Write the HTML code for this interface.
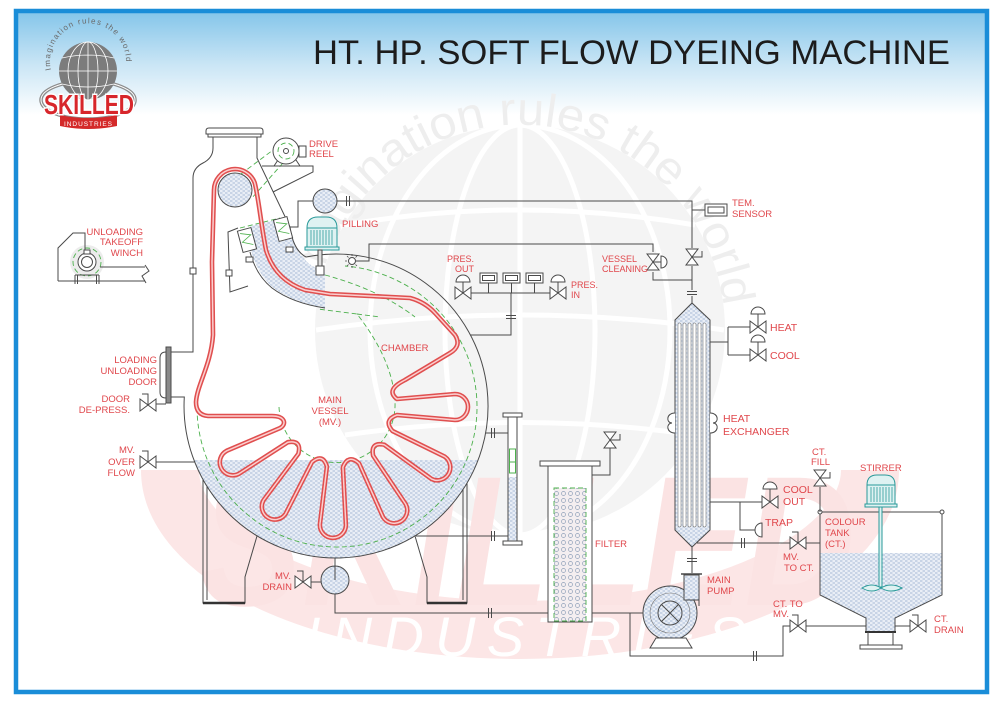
<!DOCTYPE html>
<html><head><meta charset="utf-8"><title>HT HP Soft Flow Dyeing Machine</title>
<style>
html,body{margin:0;padding:0;background:#fff;width:1000px;height:706px;overflow:hidden}
svg{display:block}
text{font-family:"Liberation Sans",Arial,sans-serif}
.l{fill:#e0474c;font-size:9.5px}
.s{fill:none;stroke:#4a4a4a;stroke-width:1}
.g{fill:none;stroke:#4cb04c;stroke-width:0.9;stroke-dasharray:5 3}
</style></head><body>
<svg width="1000" height="706" viewBox="0 0 1000 706" xmlns="http://www.w3.org/2000/svg">
<defs>
 <linearGradient id="hdr" x1="0" y1="0" x2="0" y2="1">
  <stop offset="0" stop-color="#86c6ea"/>
  <stop offset="0.5" stop-color="#c9e5f5"/>
  <stop offset="1" stop-color="#ffffff"/>
 </linearGradient>
 <pattern id="dt" width="5" height="4" patternUnits="userSpaceOnUse">
  <rect width="5" height="4" fill="#e9eef6"/>
  <path d="M0,1H2.5M2.5,3H5" stroke="#93a9cb" stroke-width="0.7"/>
 </pattern>
 <pattern id="fc" width="7" height="7" patternUnits="userSpaceOnUse">
  <rect width="7" height="7" fill="#f4eef0"/>
  <circle cx="3.5" cy="3.5" r="2" fill="none" stroke="#8e9fb8" stroke-width="0.7"/>
 </pattern>
 <path id="vh" d="M-8,-6L8,6L8,-6L-8,6Z" fill="#fff" stroke="#4a4a4a"/>
 <path id="vv" d="M-6,-8L6,8L-6,8L6,-8Z" fill="#fff" stroke="#4a4a4a"/>
 <path id="dm" d="M-7,0A7,7 0 0 1 7,0Z" fill="#fff" stroke="#4a4a4a"/>
 <path id="hh" d="M0,0V-11H-6" fill="none" stroke="#4a4a4a"/>
 <path id="hv" d="M0,0H10V-6" fill="none" stroke="#4a4a4a"/>
 <path id="fh" d="M-1.5,-5V5M1.5,-5V5" fill="none" stroke="#4a4a4a"/>
 <path id="fv" d="M-5,-1.5H5M-5,1.5H5" fill="none" stroke="#4a4a4a"/>
</defs>

<rect x="0" y="0" width="1000" height="706" fill="#fff"/>
<rect x="18" y="13" width="967" height="102" fill="url(#hdr)"/>

<!-- watermark -->
<g>
 <circle cx="520" cy="330" r="205" fill="#f4f4f4"/>
 <g fill="none" stroke="#fff" stroke-width="5">
  <ellipse cx="520" cy="330" rx="75" ry="205"/>
  <ellipse cx="520" cy="330" rx="150" ry="205"/>
  <path d="M520,125V535"/>
  <path d="M345,225Q520,195 695,225"/>
  <path d="M316,330Q520,300 724,330"/>
  <path d="M345,435Q520,410 695,435"/>
 </g>
 <path id="wp" d="M318,294.4A205,205 0 0 1 724.2,312.1" fill="none"/>
 <text font-size="46" fill="#eeeeee"><textPath href="#wp" textLength="585" lengthAdjust="spacingAndGlyphs">Imagination rules the world</textPath></text>
 <path d="M170,470A350,160 0 0 0 870,470" fill="none" stroke="#fce6e6" stroke-width="58"/>
 <text x="200" y="605" font-size="185" font-weight="bold" font-style="italic" fill="#fbe3e3" textLength="655" lengthAdjust="spacingAndGlyphs">SKILLED</text>
 <text x="305" y="656" font-size="56" font-style="italic" fill="#ffffff" textLength="440" lengthAdjust="spacing">INDUSTRIES</text>
</g>

<!-- title -->
<text x="313" y="64" font-size="34" fill="#1c1c1c" textLength="637" lengthAdjust="spacingAndGlyphs">HT. HP. SOFT FLOW DYEING MACHINE</text>

<!-- logo -->
<g>
 <ellipse cx="88" cy="100" rx="47" ry="19" fill="none" stroke="#8c8c8c" stroke-width="3.5"/>
 <ellipse cx="88" cy="100" rx="47" ry="19" fill="none" stroke="#fff" stroke-width="1"/>
 <circle cx="88" cy="71" r="29" fill="#7c7c7c"/>
 <g fill="none" stroke="#fff" stroke-width="0.8">
  <ellipse cx="88" cy="71" rx="10" ry="29"/>
  <ellipse cx="88" cy="71" rx="20" ry="29"/>
  <path d="M88,42V100M62,58Q88,52 114,58M59,71H117M62,84Q88,90 114,84"/>
 </g>
 <path id="lp" d="M51,70A38,38 0 1 1 125,70" fill="none"/>
 <text font-size="8" fill="#6a6a6a"><textPath href="#lp" textLength="128">Imagination rules the world</textPath></text>
 <path d="M60,115Q88,121 117,115L117,126Q88,132 60,126Z" fill="#d42a2a"/>
 <text x="88" y="126" font-size="6.5" fill="#fff" text-anchor="middle" textLength="48">INDUSTRIES</text>
 <text x="44" y="114" font-size="28" font-weight="bold" fill="#d7262b" stroke="#fff" stroke-width="3" paint-order="stroke" textLength="90" lengthAdjust="spacingAndGlyphs">SKILLED</text>
</g>

<!-- liquid fills -->
<path d="M193.9,460A152,152 0 0 0 478.1,460Z" fill="url(#dt)"/>
<path d="M250,226L285,218L292,235Q297,255 312,266L325,272L325,308Q290,302 270,285Q254,268 250,245Z" fill="url(#dt)"/>
<circle cx="235" cy="190" r="17" fill="url(#dt)" stroke="#4a4a4a"/>

<!-- green dashed -->
<path class="g" d="M197.2,399.7A140,140 0 1 0 398.4,281.2Q372,268 345,266"/>
<path class="g" d="M279,407A58,58 0 1 0 395,402Q393,360 357,314L318,309M357,314L380,317"/>
<path class="g" d="M325,275Q380,290 415,317"/>
<path class="g" d="M277,147L241,174M283,163L251,199"/>
<path class="g" d="M240,228L280,218"/>

<!-- rope -->
<g fill="none" stroke-linejoin="round">
<path d="M330,294L410,298Q425,302 435,313L455,335Q462,346 450,353L405,380Q385,390 397,399L455,394A13,13 0 0 1 455,420L397,415Q383,420 392.5,431L444.8,456.7A13,13 0 0 1 431.4,478.9L384.3,444.8Q370.4,441.6 373.1,455.6L405.6,504A13,13 0 0 1 382.8,516.6L359.1,463.4Q348.2,453.6 342.9,467.2L345.9,525.4A13,13 0 0 1 319.9,524.4L326.9,466.6Q323,452.9 312,462.1L285.5,514A13,13 0 0 1 263.5,500.2L298.4,453.7Q301.9,439.8 287.8,442.2L238.9,473.8A13,13 0 0 1 226.7,450.8L280.2,428C287,424 285,416 272,416L208,416Q196,415 196,402C197,385 211,365 213,335L212,262L214,190A21,21 0 0 1 254.7,182.8C259,200 261,225 266,250Q275,280 305,290Z" stroke="#e04f4f" stroke-width="4.6"/>
<path d="M330,294L410,298Q425,302 435,313L455,335Q462,346 450,353L405,380Q385,390 397,399L455,394A13,13 0 0 1 455,420L397,415Q383,420 392.5,431L444.8,456.7A13,13 0 0 1 431.4,478.9L384.3,444.8Q370.4,441.6 373.1,455.6L405.6,504A13,13 0 0 1 382.8,516.6L359.1,463.4Q348.2,453.6 342.9,467.2L345.9,525.4A13,13 0 0 1 319.9,524.4L326.9,466.6Q323,452.9 312,462.1L285.5,514A13,13 0 0 1 263.5,500.2L298.4,453.7Q301.9,439.8 287.8,442.2L238.9,473.8A13,13 0 0 1 226.7,450.8L280.2,428C287,424 285,416 272,416L208,416Q196,415 196,402C197,385 211,365 213,335L212,262L214,190A21,21 0 0 1 254.7,182.8C259,200 261,225 266,250Q275,280 305,290Z" stroke="#fbcfcf" stroke-width="1.5"/>
</g>

<!-- vessel structure -->
<path d="M206,134L206,131Q206,128 209,128L260,128Q263,128 263,131L263,134Z" fill="#fff" stroke="#4a4a4a"/>
<rect x="208" y="134" width="53" height="3" fill="#fff" stroke="#4a4a4a"/>
<path class="s" d="M213,137L213,148Q213,158 203,163Q193,168 193,178L193,352L171,352"/>
<path class="s" d="M257,137L257,158L290,227Q293,250 306,257"/>
<path class="s" d="M171,397L184.3,397A152,152 0 1 0 306,257"/>
<path class="s" d="M250,252Q256,275 272,288Q292,303 325,308"/>
<path class="s" d="M238,228L228,232L230,292L248,286"/>
<rect x="190" y="268" width="6" height="6" fill="#fff" stroke="#4a4a4a"/>
<rect x="226" y="270" width="6" height="6" fill="#fff" stroke="#4a4a4a"/>
<!-- door -->
<rect x="166" y="347" width="5" height="56" fill="#8a8a8a" stroke="#4a4a4a"/>
<path class="s" d="M166,352Q160,352 160,358L160,392Q160,398 166,398"/>
<!-- nozzle -->
<g transform="rotate(-15 247 240)"><rect x="240" y="229" width="14" height="22" fill="#fff" stroke="#4a4a4a"/><path d="M242,232L252,236L242,241L252,246" fill="none" stroke="#4cb04c" stroke-width="0.8"/></g>
<g transform="rotate(-15 283 229)"><rect x="276" y="218" width="14" height="22" fill="#fff" stroke="#4a4a4a"/><path d="M278,221L288,225L278,230L288,235" fill="none" stroke="#4cb04c" stroke-width="0.8"/></g>
<rect x="246" y="257" width="7" height="5" fill="#fff" stroke="#4a4a4a"/>
<rect x="286" y="247" width="7" height="5" fill="#fff" stroke="#4a4a4a"/>
<!-- legs -->
<path class="s" d="M203,480V603H245V577L257,536"/>
<path class="s" d="M207,486V600"/>
<path d="M203,603H245" stroke="#333" stroke-width="2.5"/>
<path class="s" d="M467,483V603H427V577L415,536"/>
<path class="s" d="M463,489V600"/>
<path d="M427,603H467" stroke="#333" stroke-width="2.5"/>

<!-- drive reel -->
<path class="s" d="M262,166L313,166L313,172L273,192"/>
<path class="s" d="M274,166L278,160L296,160L300,166"/>
<circle cx="286" cy="151" r="13" fill="#fff" stroke="#4a4a4a"/>
<circle cx="286" cy="151" r="8" class="g"/>
<circle cx="286" cy="151" r="2.5" fill="#fff" stroke="#4a4a4a"/>
<rect x="299" y="146" width="7" height="11" fill="#fff" stroke="#4a4a4a"/>

<!-- pilling -->
<circle cx="325" cy="201" r="12" fill="url(#dt)" stroke="#4a4a4a"/>
<path class="s" d="M313,201H298V227H290"/>
<path class="s" d="M337,201H692V248M692,266V290M692,296V303"/>
<use href="#fh" x="348" y="201"/>
<use href="#fv" x="692" y="293"/>
<use href="#vv" x="692" y="257"/>
<use href="#hv" x="692" y="257"/>
<path class="s" d="M692,210H705"/>
<rect x="705" y="204" width="22" height="12" fill="#fff" stroke="#4a4a4a"/>
<rect x="708" y="207" width="16" height="6" fill="#fff" stroke="#4a4a4a"/>
<g stroke="#2a9a9a" fill="#dff2f2">
 <path d="M307,228Q307,217 318,217L326,217Q337,217 337,228Z"/>
 <rect x="307" y="228" width="30" height="19"/>
 <path d="M311,230V245M314,230V245M317,230V245M320,230V245M323,230V245M326,230V245M329,230V245M332,230V245" fill="none" stroke-width="0.8"/>
 <rect x="305" y="247" width="34" height="3"/>
</g>
<rect x="318" y="250" width="4" height="16" fill="#e0e0e0" stroke="#4a4a4a"/>
<rect x="316" y="266" width="8" height="9" fill="#fff" stroke="#4a4a4a"/>

<!-- star sensor / vessel cleaning -->
<circle cx="352" cy="261" r="3.5" fill="#fff" stroke="#4a4a4a"/>
<path d="M352,254V256M352,266V268M345,261H347M357,261H359M347,256L348.5,257.5M355.5,264.5L357,266M347,266L348.5,264.5M355.5,257.5L357,256" stroke="#4a4a4a" stroke-width="0.8"/>
<path class="s" d="M356,261H369V244H653V252M653,272V280H692"/>
<use href="#vv" x="653" y="262"/>
<path class="s" d="M653,262H661"/>
<path d="M661,256A6,6 0 0 1 661,268Z" fill="#fff" stroke="#4a4a4a"/>

<!-- pressure -->
<path class="s" d="M471,293H550M511,293V335H470.4"/>
<use href="#fv" x="511" y="317"/>
<use href="#vh" x="463" y="293"/><path class="s" d="M463,293V282"/><use href="#dm" x="463" y="282"/>
<use href="#vh" x="558" y="293"/><path class="s" d="M558,293V282"/><use href="#dm" x="558" y="282"/>
<path class="s" d="M488.5,283V293M511.5,283V293M534.5,283V293"/>
<rect x="480" y="273" width="17" height="10" fill="#fff" stroke="#4a4a4a"/><rect x="482.5" y="275.5" width="12" height="5" fill="#fff" stroke="#4a4a4a"/>
<rect x="503" y="273" width="17" height="10" fill="#fff" stroke="#4a4a4a"/><rect x="505.5" y="275.5" width="12" height="5" fill="#fff" stroke="#4a4a4a"/>
<rect x="526" y="273" width="17" height="10" fill="#fff" stroke="#4a4a4a"/><rect x="528.5" y="275.5" width="12" height="5" fill="#fff" stroke="#4a4a4a"/>

<!-- heat exchanger -->
<path d="M675,320L692,303L710,320L710,530L692,547L675,530Z" fill="url(#dt)" stroke="#4a4a4a"/>
<g fill="#fff" stroke="#7a7a7a" stroke-width="0.6">
 <rect x="678" y="323" width="3" height="204" rx="1.5"/>
 <rect x="683" y="323" width="3" height="204" rx="1.5"/>
 <rect x="688" y="323" width="3" height="204" rx="1.5"/>
 <rect x="693" y="323" width="3" height="204" rx="1.5"/>
 <rect x="698" y="323" width="3" height="204" rx="1.5"/>
 <rect x="703" y="323" width="3" height="204" rx="1.5"/>
</g>
<path d="M675,413C666,413 666,423 672,423C666,423 666,433 675,433" fill="#fff" stroke="#4a4a4a"/>
<path d="M710,413C719,413 719,423 713,423C719,423 719,433 710,433" fill="#fff" stroke="#4a4a4a"/>
<path class="s" d="M692,547V573"/>
<use href="#fv" x="692" y="560"/>
<path class="s" d="M710,342H728M728,327V355M728,327H750M728,355H750"/>
<use href="#vh" x="758" y="327"/><path class="s" d="M758,327V314"/><use href="#dm" x="758" y="314"/>
<use href="#vh" x="758" y="355"/><path class="s" d="M758,355V342"/><use href="#dm" x="758" y="342"/>
<path class="s" d="M710,502H762M740,502V530H755"/>
<use href="#vh" x="770" y="502"/><path class="s" d="M770,502V489"/><use href="#dm" x="770" y="489"/>
<path d="M762,523A7,7 0 0 0 762,537Z" fill="#fff" stroke="#4a4a4a"/>
<path class="s" d="M697,543H790M806,543H820"/>
<use href="#fh" x="743" y="543"/>
<use href="#vh" x="798" y="543"/><use href="#hh" x="798" y="543"/>

<!-- colour tank -->
<path d="M820,553L942,553L942,595L895,618L895,632L866,632L866,618L820,595Z" fill="url(#dt)"/>
<path class="s" d="M820,512L820,595L866,618L866,632M942,512L942,595L895,618L895,632M818,512H944"/>
<circle cx="820" cy="512" r="2" fill="#fff" stroke="#4a4a4a"/>
<circle cx="942" cy="512" r="2" fill="#fff" stroke="#4a4a4a"/>
<path d="M865,632H896" stroke="#333" stroke-width="2"/>
<path class="s" d="M868,632V645M893,632V645"/>
<rect x="860" y="645" width="42" height="4" fill="#fff" stroke="#4a4a4a"/>
<g stroke="#2a9a9a" fill="#dff2f2">
 <path d="M867,485Q867,475 877,475L885,475Q895,475 895,485Z"/>
 <rect x="867" y="485" width="28" height="19"/>
 <path d="M871,487V502M874,487V502M877,487V502M880,487V502M883,487V502M886,487V502M889,487V502M892,487V502" fill="none" stroke-width="0.8"/>
 <rect x="865" y="504" width="32" height="3"/>
 <rect x="879" y="507" width="3" height="80"/>
 <path d="M862,588Q872,582 881,588Q891,582 902,588Q891,594 881,588Q872,594 862,588Z"/>
</g>
<path class="s" d="M820,487V512"/>
<use href="#vv" x="820" y="478"/><use href="#hv" x="820" y="478"/>
<path class="s" d="M895,626H910"/>
<use href="#vh" x="918" y="626"/><use href="#hh" x="918" y="626"/>

<!-- bottom piping -->
<path class="s" d="M630,613V656H783V626H790M806,626H866"/>
<use href="#fh" x="755" y="656"/>
<use href="#vh" x="798" y="626"/><use href="#hh" x="798" y="626"/>

<!-- pump -->
<circle cx="670" cy="613" r="27" fill="url(#dt)" stroke="#4a4a4a"/>
<rect x="684" y="575" width="15" height="25" fill="url(#dt)" stroke="#4a4a4a"/>
<path d="M684,598V600M699,598V606" stroke="#4a4a4a"/>
<path d="M681,574H702" stroke="#4a4a4a" stroke-width="1.5"/>
<circle cx="670" cy="613" r="20" fill="none" stroke="#7a7a7a" stroke-width="0.6"/>
<circle cx="670" cy="613" r="12" fill="none" stroke="#4a4a4a"/>
<path class="s" d="M661.5,604.5L678.5,621.5M678.5,604.5L661.5,621.5"/>
<path d="M650,648L692,648L686,638L656,638Z" fill="#fff" stroke="#4a4a4a"/>
<path class="s" d="M592,613H643"/>

<!-- filter -->
<rect x="548" y="465" width="44" height="157" fill="#fff" stroke="#4a4a4a"/>
<rect x="540" y="461" width="60" height="5" fill="#fff" stroke="#4a4a4a"/>
<rect x="554" y="488" width="32" height="133" fill="url(#fc)"/>
<rect x="554" y="488" width="32" height="133" class="g"/>
<path class="s" d="M592,475H610V448"/>
<use href="#vv" x="610" y="440"/><use href="#hv" x="610" y="440"/>

<!-- level gauge -->
<rect x="508" y="417" width="9" height="124" fill="#fff" stroke="#4a4a4a"/>
<rect x="508.5" y="477" width="8" height="63.5" fill="url(#dt)"/>
<rect x="503" y="413" width="19" height="4" fill="#fff" stroke="#4a4a4a"/>
<rect x="503" y="541" width="19" height="4" fill="#fff" stroke="#4a4a4a"/>
<rect x="509.5" y="449" width="6" height="24" fill="none" stroke="#4cb04c"/>
<path d="M509.5,462H515.5" stroke="#4cb04c"/>
<path class="s" d="M485.6,433H508M416,536H508"/>
<use href="#fh" x="493" y="433"/>
<use href="#fh" x="493" y="536"/>

<!-- drain -->
<path class="s" d="M335,558V580"/>
<circle cx="335" cy="580" r="14" fill="url(#dt)" stroke="#4a4a4a"/>
<path class="s" d="M335,566V580M321,582H311M335,594V613H548"/>
<use href="#vh" x="303" y="582"/><use href="#hh" x="303" y="582"/>
<use href="#fh" x="490" y="613"/>

<!-- left valves -->
<use href="#vh" x="148" y="405"/><use href="#hh" x="148" y="405"/>
<path class="s" d="M156,404H166"/>
<use href="#vh" x="148" y="462"/><use href="#hh" x="148" y="462"/>
<path class="s" d="M156,462H195"/>

<!-- winch -->
<circle cx="87" cy="262" r="17" fill="#ececec"/>
<circle cx="87" cy="262" r="14" class="g"/>
<path class="s" d="M58,281V248L73,233H85V251M58,281H145M100,267H145M145,265L149,271L142,276L146,283"/>
<circle cx="87" cy="262" r="9" fill="#fff" stroke="#4a4a4a"/>
<circle cx="87" cy="262" r="5.5" fill="none" stroke="#4a4a4a"/>
<rect x="84" y="250" width="6" height="4" fill="#fff" stroke="#4a4a4a"/>
<path class="s" d="M75,275H99M75,275V284M77.5,275V284M96.5,275V284M99,275V284"/>

<!-- labels -->
<text class="l" x="309" y="147">DRIVE</text>
<text class="l" x="309" y="157">REEL</text>
<text class="l" x="342" y="227">PILLING</text>
<text class="l" x="381" y="351">CHAMBER</text>
<text class="l" x="330" y="403" text-anchor="middle">MAIN</text>
<text class="l" x="330" y="414" text-anchor="middle">VESSEL</text>
<text class="l" x="330" y="425" text-anchor="middle">(MV.)</text>
<text class="l" x="143" y="235" text-anchor="end">UNLOADING</text>
<text class="l" x="143" y="245" text-anchor="end">TAKEOFF</text>
<text class="l" x="143" y="256" text-anchor="end">WINCH</text>
<text class="l" x="157" y="363" text-anchor="end">LOADING</text>
<text class="l" x="157" y="374" text-anchor="end">UNLOADING</text>
<text class="l" x="157" y="385" text-anchor="end">DOOR</text>
<text class="l" x="130" y="402" text-anchor="end">DOOR</text>
<text class="l" x="130" y="413" text-anchor="end">DE-PRESS.</text>
<text class="l" x="135" y="453" text-anchor="end">MV.</text>
<text class="l" x="135" y="465" text-anchor="end">OVER</text>
<text class="l" x="135" y="476" text-anchor="end">FLOW</text>
<text class="l" x="291" y="579" text-anchor="end">MV.</text>
<text class="l" x="292" y="590" text-anchor="end">DRAIN</text>
<text class="l" x="447" y="262" style="font-size:9px">PRES.</text>
<text class="l" x="455" y="272" style="font-size:9px">OUT</text>
<text class="l" x="571" y="288" style="font-size:9px">PRES.</text>
<text class="l" x="571" y="298" style="font-size:9px">IN</text>
<text class="l" x="602" y="262" style="font-size:9px">VESSEL</text>
<text class="l" x="602" y="272" style="font-size:9px">CLEANING</text>
<text class="l" x="732" y="206">TEM.</text>
<text class="l" x="732" y="217">SENSOR</text>
<text class="l" x="770" y="331" style="font-size:10.5px">HEAT</text>
<text class="l" x="770" y="359" style="font-size:10.5px">COOL</text>
<text class="l" x="723" y="422" style="font-size:10.5px">HEAT</text>
<text class="l" x="723" y="435" style="font-size:10.5px">EXCHANGER</text>
<text class="l" x="783" y="493" style="font-size:10.5px">COOL</text>
<text class="l" x="783" y="505" style="font-size:10.5px">OUT</text>
<text class="l" x="765" y="526" style="font-size:10.5px">TRAP</text>
<text class="l" x="812" y="455">CT.</text>
<text class="l" x="811" y="465">FILL</text>
<text class="l" x="860" y="471">STIRRER</text>
<text class="l" x="825" y="525">COLOUR</text>
<text class="l" x="825" y="536">TANK</text>
<text class="l" x="825" y="547">(CT.)</text>
<text class="l" x="783" y="560">MV.</text>
<text class="l" x="784" y="571">TO CT.</text>
<text class="l" x="773" y="607">CT. TO</text>
<text class="l" x="773" y="617">MV.</text>
<text class="l" x="934" y="622">CT.</text>
<text class="l" x="934" y="633">DRAIN</text>
<text class="l" x="595" y="547">FILTER</text>
<text class="l" x="707" y="583">MAIN</text>
<text class="l" x="707" y="594">PUMP</text>

<!-- frame -->
<rect x="16" y="11" width="971" height="681" fill="none" stroke="#1a8dd8" stroke-width="4.5"/>
</svg>
</body></html>
